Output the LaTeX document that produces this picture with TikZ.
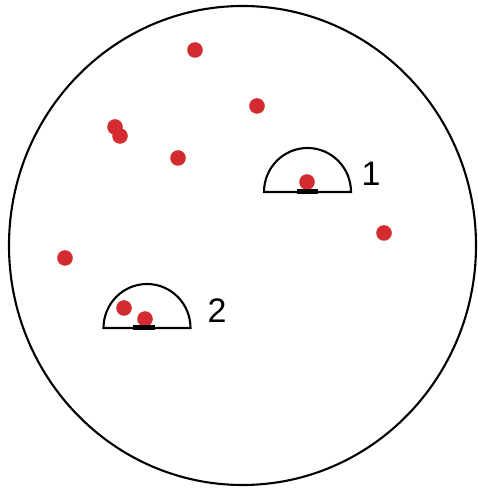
\documentclass[tikz,border=0pt]{standalone}
\usepackage{fontspec}
\setmainfont{Liberation Sans}
\usetikzlibrary{math}
\definecolor{dotred}{RGB}{212,43,48}

\begin{document}
\begin{tikzpicture}[x=1pt,y=1pt]
\tikzmath{
\r=7.8;
\R=43.5;
}
\useasboundingbox (0,0) rectangle (477,492);

\draw[line width=2.1] (242.5,246.5) ellipse (233.5 and 239.5);

\fill[dotred] (195,442) circle (\r);
\fill[dotred] (257,386) circle (\r);
\fill[dotred] (115,365) circle (\r);
\fill[dotred] (120,356) circle (\r);
\fill[dotred] (178,334) circle (\r);
\fill[dotred] (307,310) circle (\r);
\fill[dotred] (384,259) circle (\r);
\fill[dotred] (65,234) circle (\r);
\fill[dotred] (124,184) circle (\r);
\fill[dotred] (145,173) circle (\r);

\draw[line width=2.1] (307.5-\R,300) arc[start angle=180, end angle=0, x radius=\R, y radius=44] -- cycle;
\draw[line width=5] (297,300) -- (318,300);
\node[font=\fontsize{34}{36}\selectfont] (one) at (371,318) {1};

\draw[line width=2.1] (147-\R,164) arc[start angle=180, end angle=0, x radius=\R, y radius=44] -- cycle;
\draw[line width=5] (133,164) -- (155,164);
\node[font=\fontsize{34}{36}\selectfont] (two) at (217,181) {2};

\end{tikzpicture}
\end{document}
